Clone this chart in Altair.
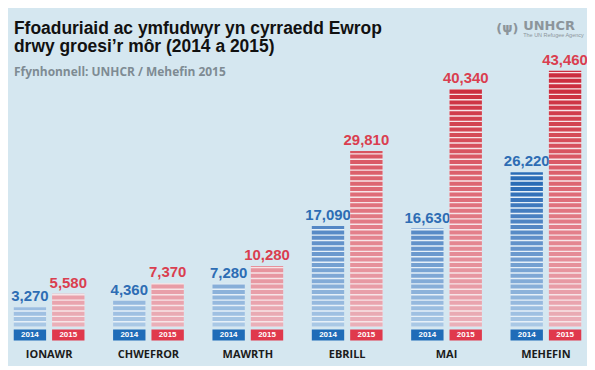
import altair as alt
import pandas as pd

# ---- data ----
months = ["IONAWR", "CHWEFROR", "MAWRTH", "EBRILL", "MAI", "MEHEFIN"]
arrivals_2014 = [3270, 4360, 7280, 17090, 16630, 26220]
arrivals_2015 = [5580, 7370, 10280, 29810, 40340, 43460]
years = ["2014", "2015"]
title_lines = ["Ffoaduriaid ac ymfudwyr yn cyrraedd Ewrop", "drwy groesi’r môr (2014 a 2015)"]
source_text = "Ffynhonnell: UNHCR / Mehefin 2015"
logo_text = "UNHCR"
logo_tagline = "The UN Refugee Agency"

# ---- styling constants ----
YMAX = 54000
STEP = 920     # stripe pitch (value units)
GAP = 240      # light gap between stripes (value units)
W, H = 581, 319
BG = "#d5e7f0"
STYLE = {
    "2014": dict(dark="#2a6cb6", light="#abc9e6", gap="#e6f0f8", label="#2d6db4", box="#1f6cb8", top=24000),
    "2015": dict(dark="#cc2d3f", light="#eab0b9", gap="#f7e4e7", label="#da3e4f", box="#e0394c", top=40000),
}

rows = []
for yr, vals in zip(years, [arrivals_2014, arrivals_2015]):
    for m, v in zip(months, vals):
        rows.append({"month": m, "year": yr, "value": v, "label": f"{v:,}"})
bars = pd.DataFrame(rows)

seg = []
for r in rows:
    k = 0
    while k * STEP < r["value"]:
        y0 = k * STEP
        y1 = min(y0 + STEP - GAP, r["value"])
        seg.append({"month": r["month"], "year": r["year"], "y0": y0, "y1": y1, "mid": (y0 + y1) / 2})
        k += 1
segs = pd.DataFrame(seg)

x_axis = alt.Axis(title=None, orient="bottom", domain=False, ticks=False, labelAngle=0,
                  labelFont="Open Sans", labelFontWeight="bold", labelFontSize=11,
                  labelColor="#1b1b1b", labelPadding=22)
X = alt.X("month:N", sort=months, axis=x_axis,
          scale=alt.Scale(paddingInner=0.288, paddingOuter=0.0577))
XO = alt.XOffset("year:N", sort=years, scale=alt.Scale(paddingInner=0.156, paddingOuter=0))
yscale = alt.Scale(domain=[0, YMAX])

layers = []
for yr in years:
    st = STYLE[yr]
    b = alt.Chart(bars).transform_filter(alt.datum.year == yr)
    s = alt.Chart(segs).transform_filter(alt.datum.year == yr)
    base = b.mark_bar(color=st["gap"]).encode(x=X, xOffset=XO, y=alt.Y("value:Q", scale=yscale, axis=None))
    stripes = s.mark_bar().encode(
        x=X, xOffset=XO,
        y=alt.Y("y0:Q", scale=yscale, axis=None), y2="y1:Q",
        color=alt.Color("mid:Q", legend=None,
                        scale=alt.Scale(domain=[0, st["top"]], range=[st["light"], st["dark"]], clamp=True)),
    )
    label = b.mark_text(font="Liberation Sans", fontWeight="bold", fontSize=15,
                        baseline="alphabetic", dy=-6, color=st["label"]).encode(
        x=X, xOffset=XO, y=alt.Y("value:Q", scale=yscale, axis=None), text="label:N")
    box = b.mark_bar(color=st["box"]).encode(x=X, xOffset=XO, y=alt.value(322), y2=alt.value(333))
    boxtext = b.mark_text(font="Liberation Sans", fontWeight="bold", fontSize=8,
                          baseline="middle", color="white").encode(
        x=X, xOffset=XO, y=alt.value(327.8), text="year:N")
    layers += [base, stripes, label, box, boxtext]

def txt(s, x, y, **kw):
    return alt.Chart(pd.DataFrame({"t": [s]})).mark_text(align="left", baseline="alphabetic", **kw).encode(
        x=alt.value(x), y=alt.value(y), text="t:N")

layers += [
    txt(title_lines[0], 6, 25, font="Liberation Sans", fontWeight="bold", fontSize=17.5, color="#111111"),
    txt(title_lines[1], 6, 44, font="Liberation Sans", fontWeight="bold", fontSize=17.5, color="#111111"),
    txt(source_text, 6, 68, font="Open Sans", fontWeight="bold", fontSize=12, color="#7e8b93"),
    txt("(ψ)", 490, 23, font="DejaVu Sans", fontWeight="bold", fontSize=13, color="#8c959b"),
    txt(logo_text, 517, 21.5, font="DejaVu Sans", fontWeight="bold", fontSize=13, color="#8c959b"),
    txt(logo_tagline, 517, 28.5, font="Liberation Sans", fontSize=5.5, color="#8c959b"),
]

chart = alt.layer(*layers).resolve_scale(color="independent").properties(
    width=W, height=H,
    autosize=alt.AutoSizeParams(type="none"),
    padding={"left": 0, "top": 0, "right": 0, "bottom": 39},
    background=BG,
).configure_view(stroke=None)

chart.save("out.html", embed_options={"renderer": "svg", "actions": False})
